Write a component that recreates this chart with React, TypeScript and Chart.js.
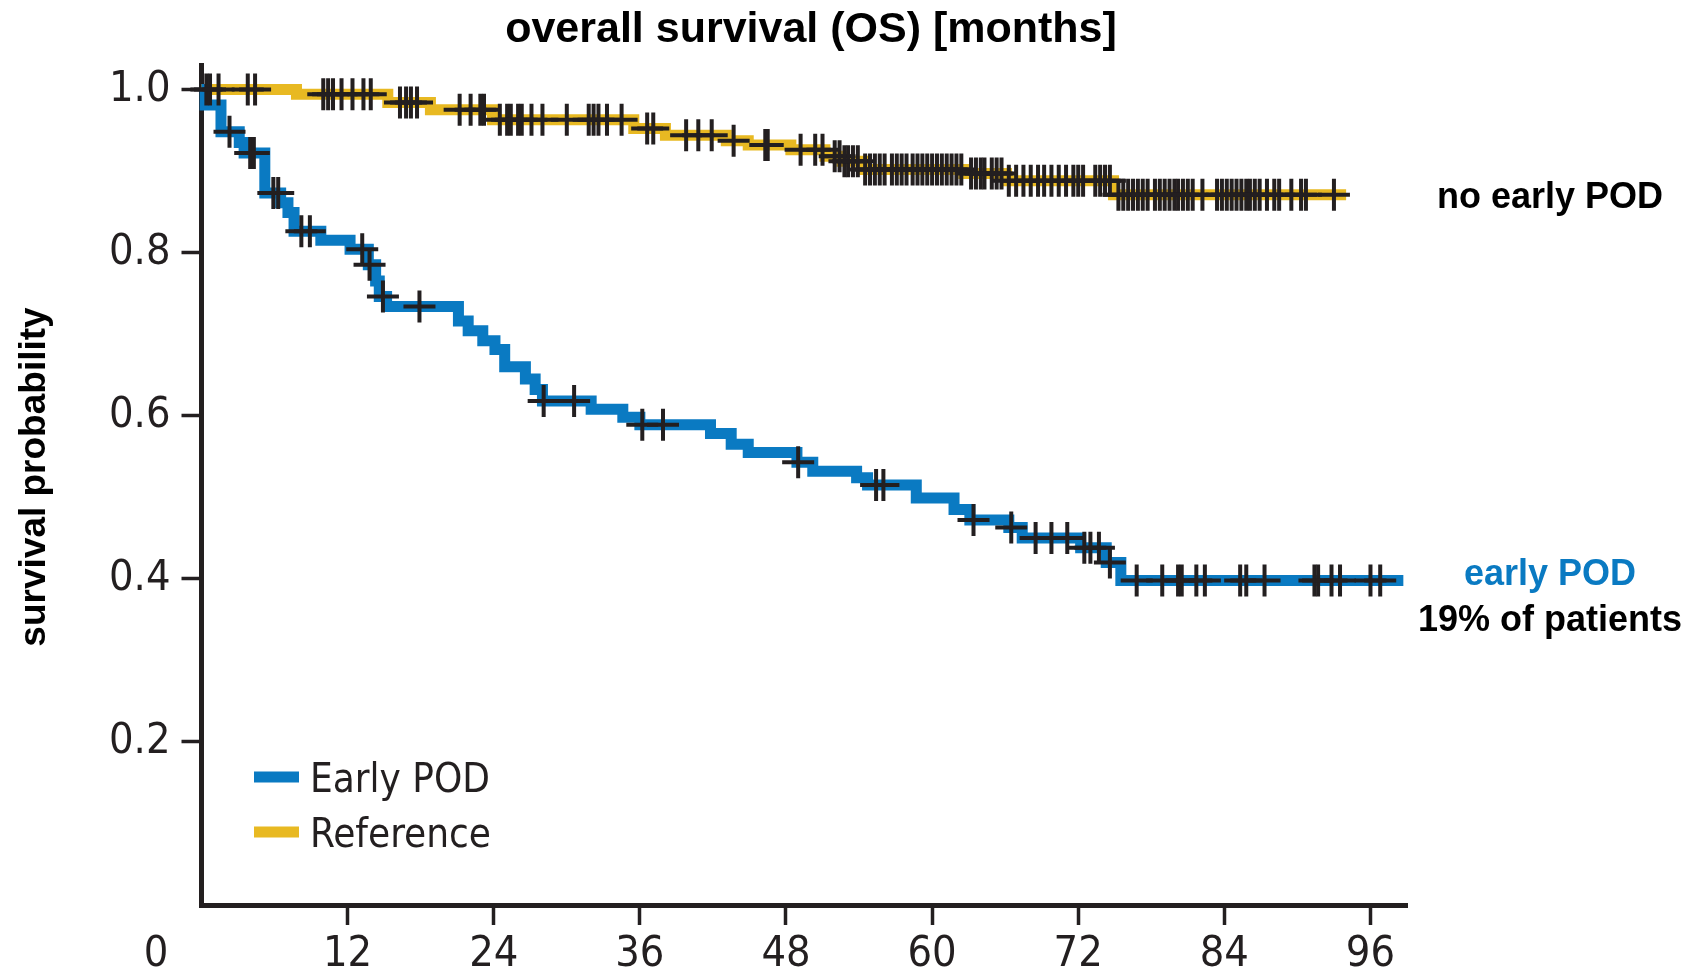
import React, { useEffect, useRef } from 'react';
import { Chart, registerables } from 'chart.js';

Chart.register(...registerables);

// ---------- data ----------
const chartTitle = 'overall survival (OS) [months]';
const yAxisTitle = 'survival probability';
const seriesNames = ['Early POD', 'Reference'];
const rightLabels = ['no early POD', 'early POD', '19% of patients'];

const xTicks = [0, 12, 24, 36, 48, 60, 72, 84, 96];
const yTicks = [0.2, 0.4, 0.6, 0.8, 1.0];

// Early POD: Kaplan-Meier step times (months) and survival after each step
const earlyTimes = [0, 0.3, 1.6, 3.1, 3.5, 5.2, 6.5, 7.1, 7.6, 9.8, 12.2, 13.7, 14.3, 14.6, 15.2, 21.1, 21.9, 23.1, 24.1, 24.9, 26.6, 27.4, 28.0, 32.0, 34.6, 36.0, 41.8, 43.5, 44.9, 48.9, 50.2, 53.8, 54.7, 58.7, 61.8, 63.1, 66.3, 67.4, 72.2, 74.3, 75.5, 98.7];
const earlySurv = [1.0, 0.981, 0.948, 0.935, 0.922, 0.873, 0.861, 0.849, 0.826, 0.815, 0.804, 0.785, 0.765, 0.746, 0.734, 0.716, 0.704, 0.692, 0.681, 0.66, 0.645, 0.632, 0.618, 0.608, 0.598, 0.589, 0.578, 0.565, 0.555, 0.543, 0.532, 0.524, 0.515, 0.499, 0.485, 0.472, 0.463, 0.45, 0.438, 0.42, 0.398, 0.398];
const earlyCensor = [2.3, 4.0, 4.3, 5.9, 6.3, 8.2, 8.9, 13.2, 13.8, 14.9, 17.9, 28.1, 30.6, 36.2, 37.9, 49.0, 55.4, 56.0, 63.4, 66.5, 68.5, 69.8, 71.1, 72.5, 73.0, 73.7, 74.6, 76.8, 78.9, 80.2, 80.5, 81.7, 82.4, 85.3, 85.8, 87.3, 91.4, 91.7, 92.8, 93.5, 96.0, 96.8];

// Reference (no early POD)
const refTimes = [0, 7.8, 15.3, 18.8, 23.9, 35.5, 38.1, 43.1, 44.9, 48.4, 51.2, 52.6, 54.3, 62.6, 66.1, 74.9, 94.0];
const refSurv = [1.0, 0.994, 0.984, 0.975, 0.963, 0.952, 0.944, 0.937, 0.932, 0.926, 0.918, 0.912, 0.902, 0.897, 0.888, 0.871, 0.871];
const refCensor = [0.4, 0.7, 1.4, 3.8, 4.4, 10.0, 10.4, 10.8, 11.5, 12.4, 13.3, 13.9, 16.3, 16.8, 17.2, 17.7, 21.2, 22.1, 22.9, 23.2, 24.5, 25.1, 25.4, 26.0, 26.3, 27.1, 28.0, 30.0, 31.8, 32.2, 32.6, 33.3, 34.5, 36.6, 37.1, 39.8, 40.8, 41.9, 43.7, 46.3, 46.5, 49.2, 50.4, 51.0, 52.0, 52.4, 52.8, 53.1, 53.5, 53.9, 54.5, 54.9, 55.3, 55.7, 56.1, 56.7, 57.1, 57.5, 57.9, 58.4, 58.8, 59.2, 59.6, 60.0, 60.4, 60.8, 61.2, 61.6, 62.0, 62.4, 63.2, 63.6, 64.0, 64.3, 64.9, 65.3, 65.7, 66.3, 66.9, 67.5, 68.1, 68.7, 69.2, 69.8, 70.4, 71.0, 71.6, 72.0, 72.4, 73.4, 73.8, 74.2, 74.6, 75.3, 75.7, 76.1, 76.5, 76.9, 77.3, 77.7, 78.3, 78.7, 79.1, 79.5, 79.9, 80.2, 80.6, 81.0, 81.4, 82.2, 83.4, 83.8, 84.2, 84.6, 85.0, 85.4, 85.8, 86.1, 86.5, 86.9, 87.5, 88.1, 88.5, 89.5, 90.3, 90.7, 93.0];

// ---------- styles ----------
const BLUE = '#0a7ac2';
const GOLD = '#e8b922';
const INK = '#231f20';
const NARROW = '"Liberation Sans Narrow", "DejaVu Sans Condensed", "Liberation Sans", sans-serif';
const BOLD = '"Liberation Sans", Arial, sans-serif';

function survAt(times: number[], surv: number[], t: number): number {
  let v = surv[0];
  for (let i = 0; i < times.length; i++) {
    if (times[i] <= t) v = surv[i];
    else break;
  }
  return v;
}

const annotate = {
  id: 'annotate',
  afterDraw(chart: any) {
    const { ctx } = chart;
    const ys = chart.scales.y;
    ctx.save();
    // title
    ctx.fillStyle = '#000';
    ctx.font = `bold 43px ${BOLD}`;
    ctx.textAlign = 'center';
    ctx.textBaseline = 'alphabetic';
    ctx.fillText(chartTitle, 811, 42);
    // y axis title
    ctx.save();
    ctx.translate(45, 477);
    ctx.rotate(-Math.PI / 2);
    ctx.font = `bold 37px ${BOLD}`;
    ctx.fillText(yAxisTitle, 0, 0);
    ctx.restore();
    // shared origin label
    ctx.fillStyle = INK;
    ctx.font = `43px ${NARROW}`;
    ctx.textBaseline = 'middle';
    ctx.fillText(String(xTicks[0]), 156, 955);
    // legend
    const colors = [BLUE, GOLD];
    ctx.font = `40px ${NARROW}`;
    ctx.textAlign = 'left';
    ctx.textBaseline = 'alphabetic';
    seriesNames.forEach((name, i) => {
      const cy = 777 + i * 55;
      ctx.fillStyle = colors[i];
      ctx.fillRect(254, cy - 5.5, 45, 11);
      ctx.fillStyle = INK;
      ctx.fillText(name, 310, cy + 15);
    });
    // right-hand labels
    ctx.textAlign = 'center';
    ctx.font = `bold 36px ${BOLD}`;
    const yRef = ys.getPixelForValue(refSurv[refSurv.length - 1]);
    const yEarly = ys.getPixelForValue(earlySurv[earlySurv.length - 1]);
    ctx.fillStyle = '#000';
    ctx.fillText(rightLabels[0], 1550, yRef + 13.5);
    ctx.fillStyle = BLUE;
    ctx.fillText(rightLabels[1], 1550, yEarly + 4.5);
    ctx.fillStyle = '#000';
    ctx.fillText(rightLabels[2], 1550, yEarly + 50.5);
    ctx.restore();
  },
};

export default function App() {
  const ref = useRef<HTMLCanvasElement>(null);
  useEffect(() => {
    document.body.style.margin = '0';
    const canvas = ref.current!;
    const censorStyle = {
      showLine: false,
      pointStyle: 'cross',
      pointRadius: 16,
      pointHoverRadius: 16,
      pointBorderWidth: 4,
      pointBorderColor: INK,
      borderColor: INK,
      backgroundColor: INK,
      clip: false,
    };
    const chart = new Chart(canvas, {
      type: 'line',
      data: {
        datasets: [
          {
            label: 'early-censored',
            data: earlyCensor.map((t) => ({ x: t, y: survAt(earlyTimes, earlySurv, t) })),
            ...censorStyle,
          } as any,
          {
            label: 'ref-censored',
            data: refCensor.map((t) => ({ x: t, y: survAt(refTimes, refSurv, t) })),
            ...censorStyle,
          } as any,
          {
            label: seriesNames[0],
            data: earlyTimes.map((t, i) => ({ x: t, y: earlySurv[i] })),
            borderColor: BLUE,
            backgroundColor: BLUE,
            borderWidth: 11,
            stepped: 'before',
            pointRadius: 0,
            fill: false,
            borderCapStyle: 'butt',
            borderJoinStyle: 'miter',
            clip: false,
          } as any,
          {
            label: seriesNames[1],
            data: refTimes.map((t, i) => ({ x: t, y: refSurv[i] })),
            borderColor: GOLD,
            backgroundColor: GOLD,
            borderWidth: 11,
            stepped: 'before',
            pointRadius: 0,
            fill: false,
            borderCapStyle: 'butt',
            borderJoinStyle: 'miter',
            clip: false,
          } as any,
        ],
      },
      options: {
        responsive: false,
        animation: false,
        events: [],
        layout: { padding: { top: 65, right: 292, left: 0, bottom: 0 } },
        plugins: {
          legend: { display: false },
          tooltip: { enabled: false },
          title: { display: false },
        },
        scales: {
          x: {
            type: 'linear',
            min: 0,
            max: 99,
            afterBuildTicks: (s: any) => {
              s.ticks = xTicks.map((v) => ({ value: v }));
            },
            afterFit: (s: any) => {
              s.height = 73;
            },
            ticks: {
              autoSkip: false,
              maxRotation: 0,
              padding: 4,
              color: INK,
              font: { family: NARROW, size: 43 },
              callback: (v: any) => (Number(v) === 0 ? '' : String(v)),
            },
            grid: {
              drawOnChartArea: false,
              drawTicks: true,
              tickLength: 20,
              tickWidth: 3.5,
              tickColor: (c: any) => (c.tick && c.tick.value === 0 ? 'rgba(0,0,0,0)' : INK),
            },
            border: { display: true, color: INK, width: 5 },
          },
          y: {
            type: 'linear',
            min: 0,
            max: 1.03,
            afterBuildTicks: (s: any) => {
              s.ticks = yTicks.map((v) => ({ value: v }));
            },
            afterFit: (s: any) => {
              s.width = 201.5;
            },
            ticks: {
              padding: 11,
              color: INK,
              font: { family: NARROW, size: 43 },
              callback: (v: any) => Number(v).toFixed(1),
            },
            grid: {
              drawOnChartArea: false,
              drawTicks: true,
              tickLength: 20,
              tickWidth: 3.5,
              tickColor: INK,
            },
            border: { display: true, color: INK, width: 5 },
          },
        },
      } as any,
      plugins: [annotate],
    });
    return () => chart.destroy();
  }, []);
  return (
    <div style={{ width: 1699, height: 978, overflow: 'hidden', background: '#fff' }}>
      <canvas ref={ref} width={1699} height={978} style={{ display: 'block' }} />
    </div>
  );
}
